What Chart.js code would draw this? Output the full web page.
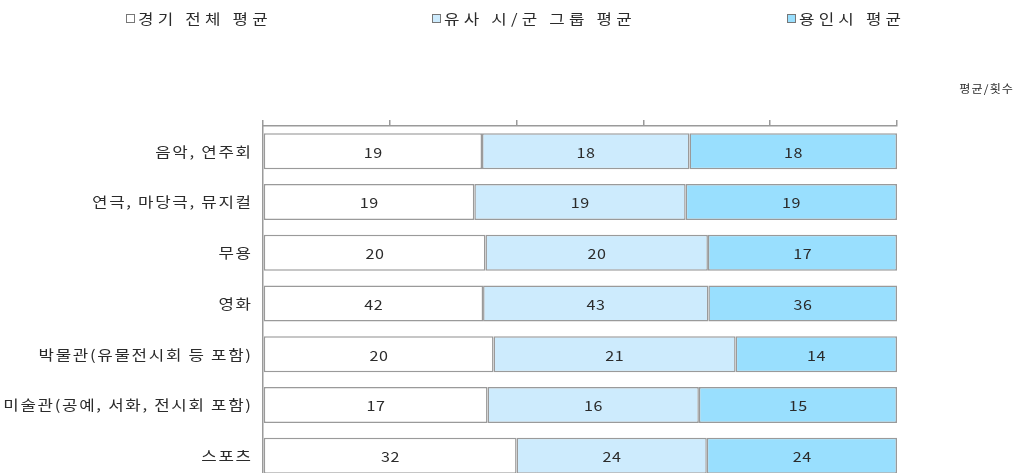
<!DOCTYPE html>
<html>
<head>
<meta charset="utf-8">
<script src="https://cdn.jsdelivr.net/npm/chart.js@4"></script>
<style>
    html, body { margin: 0; background: #fff; overflow: hidden; }
</style>
</head>
<body>
<canvas id="chart" width="1018" height="481"></canvas>
<script>
let categories = ["음악, 연주회", "연극, 마당극, 뮤지컬", "무용", "영화", "박물관(유물전시회 등 포함)",
    "미술관(공예, 서화, 전시회 포함)", "스포츠"]
let seriesNames = ["경기 전체 평균", "유사 시/군 그룹 평균", "용인시 평균"]
let gyeonggiAvg = [19, 19, 20, 42, 20, 17, 32]
let similarAvg = [18, 19, 20, 43, 21, 16, 24]
let yonginAvg = [18, 19, 17, 36, 14, 15, 24]
let seriesColors = ["#ffffff", "#cdebfd", "#99dffe"]
let xTicks = [0, 20, 40, 60, 80, 100]
let unitLabel = "평균/횟수"

const FONT = "'Noto Sans CJK KR', 'Noto Sans', sans-serif"
const EDGE = "#9a9a9a"
const TEXT = "#2b2b2b"
const legendX = [126, 432, 787]

Chart.defaults.font.family = FONT

// each row is drawn as shares of its own total, the label keeps the raw value
let rows = [gyeonggiAvg, similarAvg, yonginAvg]
let totals = categories.map((c, i) => rows.reduce((s, r) => s + r[i], 0))
let datasets = rows.map((r, k) => ({
    label: seriesNames[k],
    raw: r,
    data: r.map((v, i) => v / totals[i] * 100),
    backgroundColor: seriesColors[k],
    borderColor: EDGE,
    borderWidth: 1.5,
    borderSkipped: false,
    barPercentage: 0.71,
    categoryPercentage: 1,
}))

// wide, loosely set text: stretched horizontally with a little tracking
function wideText(ctx, text, x, y, size, stretch, spacing, align) {
    ctx.save()
    ctx.font = `${size}px ${FONT}`
    ctx.letterSpacing = `${spacing}px`
    ctx.textAlign = "left"
    let w = (ctx.measureText(text).width - spacing) * stretch
    let left = align === "right" ? x - w : align === "center" ? x - w / 2 : x
    ctx.translate(left, y)
    ctx.scale(stretch, 1)
    ctx.fillText(text, 0, 0)
    ctx.restore()
}

const barLabels = {
    id: "barLabels",
    afterDatasetsDraw(chart) {
        const ctx = chart.ctx
        ctx.save()
        ctx.fillStyle = TEXT
        ctx.textBaseline = "middle"
        chart.data.datasets.forEach((ds, i) => {
            chart.getDatasetMeta(i).data.forEach((bar, j) => {
                const p = bar.getCenterPoint()
                wideText(ctx, String(ds.raw[j]), p.x, p.y + 1, 14, 1.15, 0.5, "center")
            })
        })
        // category names beside the left axis
        const yScale = chart.scales.y
        categories.forEach((name, i) => {
            wideText(ctx, name, yScale.right - 12, yScale.getPixelForValue(i), 14, 1.2, 1.4, "right")
        })
        ctx.restore()
    }
}

const topLegend = {
    id: "topLegend",
    afterDraw(chart) {
        const ctx = chart.ctx
        ctx.save()
        ctx.textBaseline = "middle"
        seriesNames.forEach((name, k) => {
            const x = legendX[k]
            ctx.fillStyle = seriesColors[k]
            ctx.fillRect(x, 14, 9, 9)
            ctx.strokeStyle = "#777"
            ctx.lineWidth = 1
            ctx.strokeRect(x + 0.5, 14.5, 8, 8)
            ctx.fillStyle = TEXT
            wideText(ctx, name, x + 12, 19, 14, 1.2, 3.5, "left")
        })
        wideText(ctx, unitLabel, 1013, 89, 11, 1.1, 1, "right")
        ctx.restore()
    }
}

new Chart(document.getElementById("chart"), {
    type: "bar",
    data: {labels: categories, datasets: datasets},
    plugins: [barLabels, topLegend],
    options: {
        indexAxis: "y",
        responsive: false,
        animation: false,
        devicePixelRatio: 1,
        layout: {padding: {top: 118, left: 0, right: 121, bottom: 0}},
        plugins: {legend: {display: false}, tooltip: {enabled: false}},
        scales: {
            x: {
                type: "linear",
                position: "top",
                stacked: true,
                min: 0,
                max: 100,
                afterBuildTicks: scale => { scale.ticks = xTicks.map(v => ({value: v})) },
                afterFit: scale => { scale.height = 8 },
                ticks: {display: false},
                grid: {drawOnChartArea: false, drawTicks: true, tickLength: 6, color: EDGE, lineWidth: 1.5},
                border: {color: EDGE, width: 1.5},
            },
            y: {
                stacked: true,
                afterFit: scale => { scale.width = 263 },
                grid: {display: false, drawTicks: false},
                border: {color: EDGE, width: 1.5},
                ticks: {display: false},
            },
        },
    },
})
</script>
</body>
</html>
